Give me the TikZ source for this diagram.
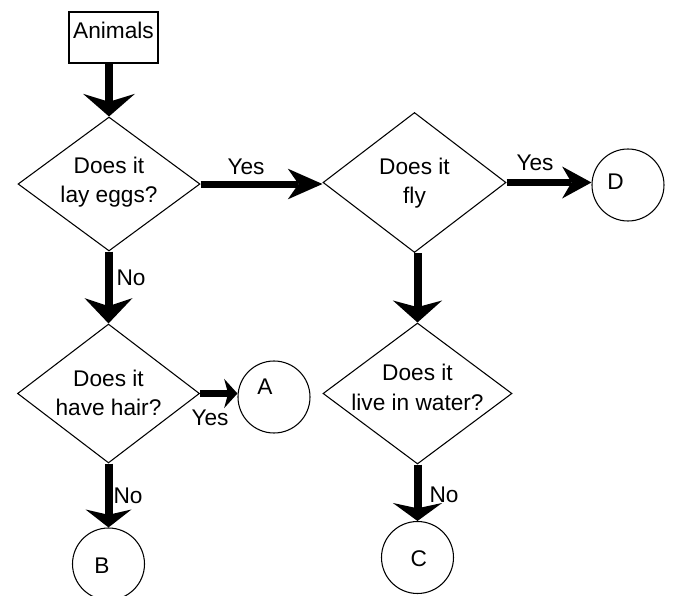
\documentclass[tikz,border=0pt]{standalone}
\usepackage{fontspec}
\setmainfont{Liberation Sans}
\usetikzlibrary{arrows.meta,shapes.geometric}
\begin{document}
\begin{tikzpicture}[x=0.75pt,y=-0.75pt,
  every node/.style={font=\fontsize{17}{22}\selectfont, text=black},
  box/.style={draw, line width=0.8pt, rectangle, minimum width=66.75pt, minimum height=38.25pt, inner sep=0pt},
  dia/.style={draw, line width=0.8pt, diamond, inner sep=0pt},
  circ/.style={draw, line width=0.8pt, circle, minimum size=54pt, inner sep=0pt},
  vflow/.style={line width=6pt},
  hflow/.style={line width=5.25pt},
  lbl/.style={inner sep=0pt}
]
\clip (0,0) rectangle (687,596);
\fill[white] (0,0) rectangle (687,596);

% boxes and decisions
\node[box, label={[yshift=5.6pt]center:Animals}] (animals) at (113.5,37.5) {};
\node[dia, minimum width=136.5pt, minimum height=100.5pt,
  label={[align=center,yshift=1.5pt]center:Does it\\lay eggs?}] (d1) at (109,184) {};
\node[dia, minimum width=137.25pt, minimum height=105pt,
  label={[align=center,yshift=-0.5pt]center:Does it\\fly}] (d2) at (414.5,182.5) {};
\node[dia, minimum width=141.75pt, minimum height=105.75pt,
  label={[align=center,yshift=4.5pt]center:Does it\\live in water?}] (d3) at (417.5,393.5) {};
\node[dia, minimum width=136.5pt, minimum height=104.25pt,
  label={[align=center,yshift=0.5pt]center:Does it\\have hair?}] (d4) at (108.5,393.5) {};

% terminals
\node[circ, label={[xshift=-6.75pt,yshift=7.5pt]center:A}] (a) at (274,397) {};
\node[circ, label={[xshift=-5pt,yshift=-1.2pt]center:B}] (b) at (108.5,564) {};
\node[circ, label={[xshift=1pt,yshift=-0.6pt]center:C}] (c) at (417.5,557.5) {};
\node[circ, label={[xshift=-9.4pt,yshift=2.6pt]center:D}] (d) at (628,185) {};

% connectors
\draw[vflow, -{Stealth[length=17pt,width=39pt,inset=6pt,line width=0pt]}]
  (d1.north |- animals.south) -- (d1.north);
\draw[hflow, -{Stealth[length=26pt,width=23pt,inset=8pt,line width=0pt]}]
  (d1.east) -- (d1.east -| d2.west);
\draw[hflow, -{Stealth[length=22pt,width=24pt,inset=7pt,line width=0pt]}]
  (d2.east) -- (d2.east -| d.west);
\draw[vflow, -{Stealth[length=16.5pt,width=37pt,inset=5pt,line width=0pt]}]
  (d3.north |- d2.south) -- (d3.north);
\draw[vflow, -{Stealth[length=13.5pt,width=37pt,inset=4pt,line width=0pt]}]
  (d3.south) -- (c.north);
\draw[vflow, -{Stealth[length=19pt,width=36pt,inset=6pt,line width=0pt]}]
  (d4.north |- d1.south) -- (d4.north);
\draw[hflow, -{Stealth[length=10pt,width=22pt,inset=3pt,line width=0pt]}]
  (d4.east) -- (d4.east -| a.west);
\draw[vflow, -{Stealth[length=13.5pt,width=34.5pt,inset=4pt,line width=0pt]}]
  (d4.south) -- (b.north);

% connector labels
\node[lbl] (l1) at (246,167) {Yes};
\node[lbl] (l2) at (535,163) {Yes};
\node[lbl] (l3) at (131,278) {No};
\node[lbl] (l4) at (210,418) {Yes};
\node[lbl] (l5) at (128,496) {No};
\node[lbl] (l6) at (444,495) {No};
\end{tikzpicture}
\end{document}
